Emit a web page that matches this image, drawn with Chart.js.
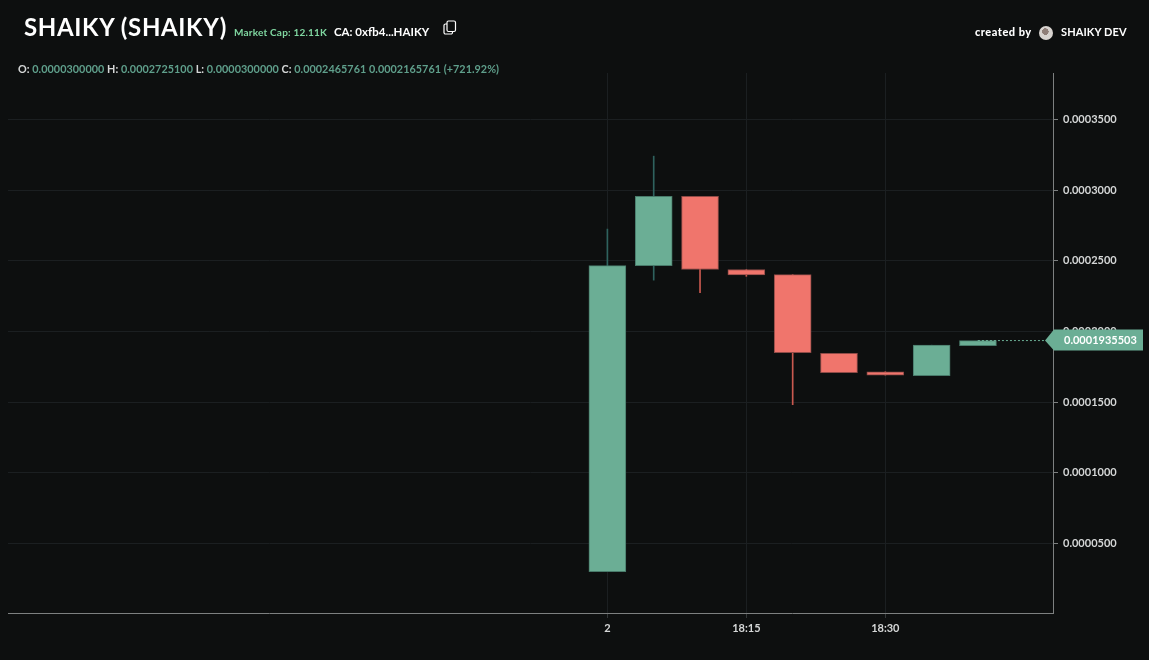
<!DOCTYPE html>
<html>
<head>
<meta charset="utf-8">
<title>SHAIKY (SHAIKY)</title>
<script src="https://cdn.jsdelivr.net/npm/chart.js@4"></script>
<style>
  html, body { margin:0; padding:0; background:#0d0f0f; }
  body { width:1149px; height:660px; position:relative; overflow:hidden; font-family:"Lato",sans-serif; }
  canvas { position:absolute; left:0; top:0; }
  .txt { position:absolute; white-space:nowrap; line-height:1; }
  .title { left:24px; top:15px; font-size:24px; font-weight:700; color:#fff; letter-spacing:.65px; }
  .mcap { left:234px; top:27px; font-size:10px; font-weight:700; color:#7fd6a0; letter-spacing:.2px; }
  .ca { left:334px; top:26px; font-size:11.5px; font-weight:700; color:#fff; letter-spacing:0; }
  .by { left:975px; top:26px; font-size:11px; font-weight:900; color:#fff; letter-spacing:.5px; }
  .dev { left:1061px; top:26px; font-size:11px; font-weight:700; color:#fff; letter-spacing:.1px; }
  .ohlc { left:18px; top:64px; font-size:10.8px; font-weight:700; color:#d5d7d7; letter-spacing:.05px; }
  .ohlc b { color:#5f9f8b; font-weight:700; }
  .avatar { position:absolute; left:1039px; top:26px; width:14px; height:14px; border-radius:50%;
            background:radial-gradient(circle at 45% 40%, #8f7f78 0 28%, #d8d4d0 30% 100%); }
  .copy { position:absolute; left:443px; top:20px; }
</style>
</head>
<body>
<canvas id="chart_candles" width="1149" height="660"></canvas>
<div class="txt title">SHAIKY (SHAIKY)</div>
<div class="txt mcap">Market Cap: 12.11K</div>
<div class="txt ca">CA: 0xfb4...HAIKY</div>
<svg class="copy" width="14" height="16" viewBox="0 0 14 16" fill="none" stroke="#fff" stroke-width="1.2">
  <rect x="4" y="1" width="8.5" height="10.5" rx="1.5"/>
  <path d="M4 4H2.5A1.5 1.5 0 0 0 1 5.5v7A1.5 1.5 0 0 0 2.5 14H8a1.5 1.5 0 0 0 1.5-1.5V11.5"/>
</svg>
<div class="txt by">created by</div>
<div class="avatar"></div>
<div class="txt dev">SHAIKY DEV</div>
<div class="txt ohlc">O: <b>0.0000300000</b> H: <b>0.0002725100</b> L: <b>0.0000300000</b> C: <b>0.0002465761 0.0002165761 (+721.92%)</b></div>

<script>
// Velas en minutos desde las 18:00
const times  = [0, 5, 10, 15, 20, 25, 30, 35, 40];
const opens  = [0.0000300, 0.0002466, 0.0002955, 0.0002438, 0.0002402, 0.0001846, 0.0001715, 0.0001687, 0.0001900];
const highs  = [0.0002725, 0.0003240, 0.0002955, 0.0002438, 0.0002402, 0.0001846, 0.0001715, 0.0001903, 0.0001935];
const lows   = [0.0000300, 0.0002363, 0.0002275, 0.0002390, 0.0001482, 0.0001708, 0.0001691, 0.0001687, 0.0001900];
const closes = [0.0002466, 0.0002955, 0.0002438, 0.0002399, 0.0001850, 0.0001708, 0.0001691, 0.0001903, 0.0001935];

const yTicks = [0.00005, 0.0001, 0.00015, 0.0002, 0.00025, 0.0003, 0.00035];
const xTicks = [0, 15, 30];
const xTickLabels = ['2', '18:15', '18:30'];
const lastPrice = 0.0001935503;

const UP = '#6bae95', UP_EDGE = '#487a6a', UP_WICK = '#2f625e';
const DOWN = '#f0756c', DOWN_EDGE = '#8f4b47', DOWN_WICK = '#c9594f';
const GRID = '#1b1f21', AXIS = '#7d8080';
const isUp = i => closes[i] >= opens[i];

// Etiqueta y línea punteada del último precio
const priceTag = {
  id: 'priceTag',
  afterDraw(chart) {
    const { ctx, scales: { x, y } } = chart;
    const py = y.getPixelForValue(lastPrice);
    const tip = x.right - 8, left = x.right + 1, right = 1143;
    ctx.save();
    ctx.strokeStyle = UP;
    ctx.lineWidth = 1;
    ctx.setLineDash([2, 2]);
    ctx.beginPath();
    ctx.moveTo(x.getPixelForValue(times[times.length - 1]), py);
    ctx.lineTo(tip, py);
    ctx.stroke();
    ctx.setLineDash([]);
    ctx.fillStyle = UP;
    ctx.beginPath();
    ctx.moveTo(tip, py);
    ctx.lineTo(left, py - 11);
    ctx.lineTo(right, py - 11);
    ctx.lineTo(right, py + 10);
    ctx.lineTo(left, py + 10);
    ctx.closePath();
    ctx.fill();
    ctx.fillStyle = '#fff';
    ctx.font = 'bold 11px Lato, sans-serif';
    ctx.textBaseline = 'middle';
    ctx.fillText(lastPrice.toFixed(10), 1064, py);
    ctx.restore();
  }
};

new Chart(document.getElementById('chart_candles'), {
  type: 'bar',
  data: {
    datasets: [
      {
        label: 'Cuerpo',
        data: times.map((t, i) => ({ x: t, y: [opens[i], closes[i]] })),
        barThickness: 37,
        backgroundColor: times.map((t, i) => isUp(i) ? UP : DOWN),
        borderColor: times.map((t, i) => isUp(i) ? UP_EDGE : DOWN_EDGE),
        borderWidth: 1,
        borderSkipped: false
      },
      {
        label: 'Mecha',
        data: times.map((t, i) => ({ x: t, y: [lows[i], highs[i]] })),
        barThickness: 1,
        backgroundColor: times.map((t, i) => isUp(i) ? UP_WICK : DOWN_WICK),
        borderWidth: 0
      }
    ]
  },
  options: {
    responsive: false,
    animation: false,
    grouped: false,
    layout: { padding: { left: 8, top: 73, right: 0, bottom: 0 } },
    plugins: { legend: { display: false }, tooltip: { enabled: false } },
    scales: {
      x: {
        type: 'linear',
        offset: false,
        min: -64.7,
        max: 48.1,
        afterBuildTicks(s) { s.ticks = xTicks.map(v => ({ value: v })); },
        afterFit(s) { s.height = 47; },
        grid: { offset: false, color: GRID, tickColor: '#333738', tickLength: 5 },
        border: { color: AXIS },
        ticks: {
          maxRotation: 0,
          autoSkip: false,
          color: '#d5d7d7',
          padding: 4,
          font: { family: 'Lato, sans-serif', size: 11, weight: 'bold' },
          callback: v => xTickLabels[xTicks.indexOf(v)]
        }
      },
      y: {
        position: 'right',
        min: 0.00000084,
        max: 0.00038282,
        afterBuildTicks(s) { s.ticks = yTicks.map(v => ({ value: v })); },
        afterFit(s) { s.width = 96; },
        grid: { color: GRID, tickColor: AXIS, tickLength: 5 },
        border: { color: AXIS },
        ticks: {
          autoSkip: false,
          color: '#d5d7d7',
          padding: 5,
          font: { family: 'Lato, sans-serif', size: 11, weight: 'bold' },
          callback: v => v.toFixed(7)
        }
      }
    }
  },
  plugins: [priceTag]
});
</script>
</body>
</html>
